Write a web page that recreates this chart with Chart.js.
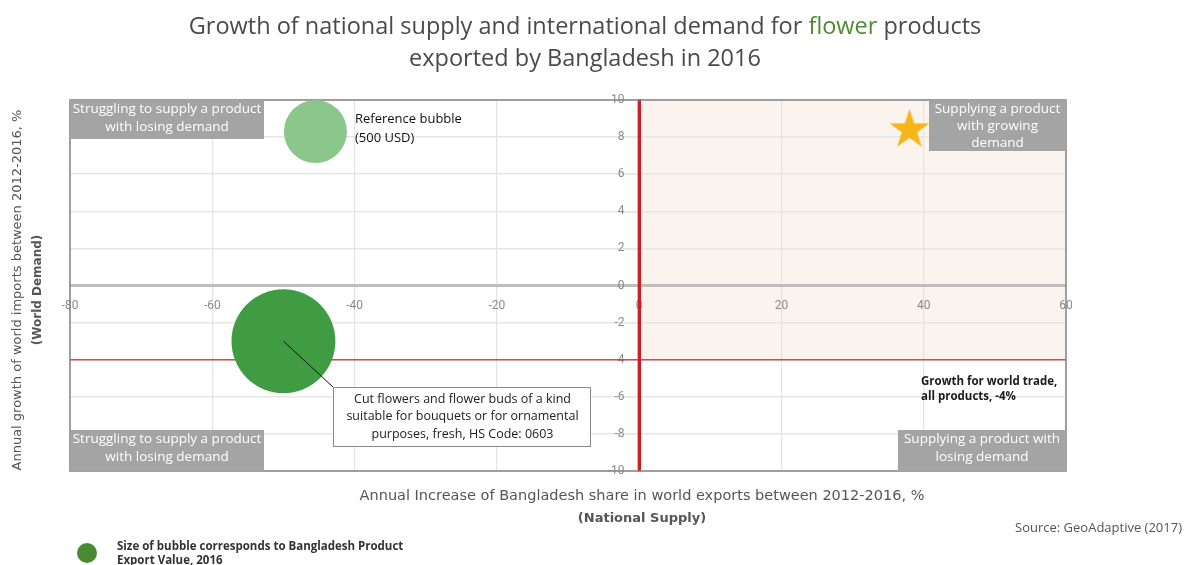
<!DOCTYPE html>
<html>
<head>
<meta charset="utf-8">
<title>Bangladesh flower exports 2016</title>
<script src="https://cdn.jsdelivr.net/npm/chart.js@4.4.1/dist/chart.umd.min.js"></script>
<style>
  html, body { margin: 0; padding: 0; background: #fff; }
  #wrap { position: relative; width: 1184px; height: 565px; }
</style>
</head>
<body>
<div id="wrap"><canvas id="growthChart"></canvas></div>
<script>
// product bubble: supply growth (x), demand growth (y), export value
var productNames = ['Cut flowers and flower buds of a kind suitable for bouquets or for ornamental purposes, fresh, HS Code: 0603'];
var supplyGrowth = [-50];
var demandGrowth = [-3];
var exportValue = [1360];

// reference bubble (500 USD)
var refSupply = [-45.5];
var refDemand = [8.3];
var refValue = [500];

// star marker in the growing-demand quadrant
var starSupply = [38];
var starDemand = [8.5];

// world trade growth, all products
var worldTradeGrowth = -4;

// axis ranges
var xRange = [-80, 60];
var yRange = [-10, 10];
var xStep = 20;
var yStep = 2;

// bubble area follows value, 500 USD reference = 31.5px radius
function bubbleRadius(v) {
    return 31.5 * Math.sqrt(v / refValue[0]);
}

// filled five point star used as point style
var starImg = document.createElement('canvas');
starImg.width = 42;
starImg.height = 42;
var sc = starImg.getContext('2d');
sc.fillStyle = '#f6b519';
sc.beginPath();
for (var i = 0; i < 10; i++) {
    var rr = i % 2 ? 8.1 : 21;
    var a = -Math.PI / 2 + i * Math.PI / 5;
    sc.lineTo(21 + rr * Math.cos(a), 23 + rr * Math.sin(a));
}
sc.closePath();
sc.fill();

function textLines(ctx, lines, x, y, lh) {
    for (var i = 0; i < lines.length; i++) {
        ctx.fillText(lines[i], x, y + i * lh);
    }
}

function greyBox(ctx, x, y, w, h, lines, lh) {
    ctx.fillStyle = '#a4a4a4';
    ctx.fillRect(x, y, w, h);
    ctx.fillStyle = '#ffffff';
    ctx.font = '13.5px "Open Sans"';
    ctx.textAlign = 'center';
    ctx.textBaseline = 'middle';
    textLines(ctx, lines, x + w / 2, y + 9, lh);
}

var quadrantPlugin = {
    id: 'quadrants',
    beforeDraw: function(chart) {
        var c = chart.ctx, a = chart.chartArea;
        var xs = chart.scales.x, ys = chart.scales.y;
        c.save();
        // shaded growing side
        var x0 = xs.getPixelForValue(0);
        var yw = ys.getPixelForValue(worldTradeGrowth);
        c.fillStyle = '#faf3ee';
        c.fillRect(x0, a.top, a.right - x0, yw - a.top);
        c.restore();
    },
    beforeDatasetsDraw: function(chart) {
        var c = chart.ctx, a = chart.chartArea;
        var ys = chart.scales.y, xs = chart.scales.x;
        c.save();
        // world trade growth line
        var yw = ys.getPixelForValue(worldTradeGrowth);
        c.strokeStyle = '#d24a4a';
        c.lineWidth = 1.5;
        c.beginPath();
        c.moveTo(a.left, yw);
        c.lineTo(a.right, yw);
        c.stroke();
        // red zero supply line on top
        var x0 = xs.getPixelForValue(0);
        c.strokeStyle = '#cc1f24';
        c.lineWidth = 3;
        c.beginPath();
        c.moveTo(x0, a.top);
        c.lineTo(x0, a.bottom);
        c.stroke();
        // frame
        c.strokeStyle = '#858585';
        c.lineWidth = 1.5;
        c.strokeRect(a.left, a.top, a.right - a.left, a.bottom - a.top);
        c.restore();
    },
    afterDatasetsDraw: function(chart) {
        var c = chart.ctx, a = chart.chartArea;
        var xs = chart.scales.x, ys = chart.scales.y;
        c.save();

        // quadrant labels
        greyBox(c, a.left, a.top, 194, 39, ['Struggling to supply a product', 'with losing demand'], 18);
        greyBox(c, a.left, a.bottom - 41, 194, 41, ['Struggling to supply a product', 'with losing demand'], 18);
        greyBox(c, a.right - 137, a.top, 137, 51, ['Supplying a product', 'with growing', 'demand'], 17);
        greyBox(c, a.right - 168, a.bottom - 41, 168, 41, ['Supplying a product with', 'losing demand'], 18);

        // reference bubble note
        c.fillStyle = '#111';
        c.font = '13px "Open Sans"';
        c.textAlign = 'left';
        c.textBaseline = 'middle';
        textLines(c, ['Reference bubble', '(500 USD)'], 355, 119, 19);

        // world trade note
        c.font = 'bold 11.5px "Open Sans"';
        c.fillStyle = '#1a1a1a';
        textLines(c, ['Growth for world trade,', 'all products, -4%'], 921, 382, 15);

        // callout for the product bubble
        var px = xs.getPixelForValue(supplyGrowth[0]);
        var py = ys.getPixelForValue(demandGrowth[0]);
        var bx = 333, by = 387, bw = 257, bh = 59;
        c.strokeStyle = '#111';
        c.lineWidth = 1;
        c.beginPath();
        c.moveTo(px, py);
        c.lineTo(bx, by);
        c.stroke();
        c.fillStyle = '#fff';
        c.fillRect(bx, by, bw, bh);
        c.strokeStyle = '#8a8a8a';
        c.strokeRect(bx + 0.5, by + 0.5, bw, bh);
        c.fillStyle = '#222';
        c.font = '12.5px "Open Sans"';
        c.textAlign = 'center';
        textLines(c, ['Cut flowers and flower buds of a kind', 'suitable for bouquets or for ornamental', 'purposes, fresh, HS Code: 0603'], bx + bw / 2 + 1, by + 12, 17.5);
        c.restore();
    },
    afterDraw: function(chart) {
        var c = chart.ctx;
        c.save();
        // title, two lines, with the product word in green
        c.font = '23.5px "Open Sans"';
        c.textBaseline = 'middle';
        c.textAlign = 'left';
        var p1 = 'Growth of national supply and international demand for ';
        var p2 = 'flower';
        var p3 = ' products';
        var w1 = c.measureText(p1).width, w2 = c.measureText(p2).width, w3 = c.measureText(p3).width;
        var sx = 585 - (w1 + w2 + w3) / 2;
        c.fillStyle = '#4a4a4a';
        c.fillText(p1, sx, 27);
        c.fillStyle = '#4f8a34';
        c.fillText(p2, sx + w1, 27);
        c.fillStyle = '#4a4a4a';
        c.fillText(p3, sx + w1 + w2, 27);
        c.textAlign = 'center';
        c.fillText('exported by Bangladesh in 2016', 585, 59);

        // x axis title
        c.fillStyle = '#555';
        c.font = '14.5px "DejaVu Sans"';
        c.fillText('Annual Increase of Bangladesh share in world exports between 2012-2016, %', 642, 496);
        c.font = 'bold 13px "DejaVu Sans"';
        c.fillText('(National Supply)', 642, 519);

        // y axis title
        c.save();
        c.translate(18, 290);
        c.rotate(-Math.PI / 2);
        c.font = '13px "DejaVu Sans"';
        c.fillText('Annual growth of world imports between 2012-2016, %', 0, 0);
        c.font = 'bold 12px "DejaVu Sans"';
        c.fillText('(World Demand)', 0, 20);
        c.restore();

        // source
        c.font = '13px "Open Sans"';
        c.fillStyle = '#555';
        c.textAlign = 'right';
        c.fillText('Source: GeoAdaptive (2017)', 1182, 528);

        // bubble size key
        c.fillStyle = '#4a8a32';
        c.beginPath();
        c.arc(87, 553, 10, 0, Math.PI * 2);
        c.fill();
        c.fillStyle = '#333';
        c.font = 'bold 11.5px "Open Sans"';
        c.textAlign = 'left';
        textLines(c, ['Size of bubble corresponds to Bangladesh Product', 'Export Value, 2016'], 117, 547, 14);
        c.restore();
    }
};

var ctx = document.getElementById('growthChart');

var myChart = new Chart(ctx, {
    type: 'bubble',
    data: {
        datasets: [
            {
                label: productNames[0],
                data: supplyGrowth.map(function(x, i) {
                    return { x: x, y: demandGrowth[i], r: bubbleRadius(exportValue[i]) };
                }),
                backgroundColor: '#409c42',
                borderWidth: 0
            },
            {
                label: 'Reference bubble (500 USD)',
                data: refSupply.map(function(x, i) {
                    return { x: x, y: refDemand[i], r: bubbleRadius(refValue[i]) };
                }),
                backgroundColor: '#8bc68a',
                borderWidth: 0
            },
            {
                type: 'scatter',
                label: 'Star',
                data: starSupply.map(function(x, i) {
                    return { x: x, y: starDemand[i] };
                }),
                pointStyle: starImg
            }
        ]
    },
    options: {
        responsive: true,
        maintainAspectRatio: false,
        animation: false,
        events: [],
        layout: { padding: { left: 70, top: 100, right: 118, bottom: 94 } },
        plugins: {
            legend: { display: false },
            tooltip: { enabled: false },
            title: { display: false }
        },
        scales: {
            x: {
                type: 'linear',
                min: xRange[0],
                max: xRange[1],
                position: { y: 0 },
                ticks: {
                    stepSize: xStep,
                    color: '#8a8a8a',
                    font: { family: 'Roboto', size: 12 },
                    maxRotation: 0,
                    padding: 5
                },
                grid: {
                    color: function(c) { return c.tick && c.tick.value === 0 ? 'rgba(0,0,0,0)' : '#e4e4e4'; },
                    lineWidth: 1.2,
                    tickLength: 8
                },
                border: { color: '#bdbdbd', width: 3 }
            },
            y: {
                type: 'linear',
                min: yRange[0],
                max: yRange[1],
                position: { x: 0 },
                ticks: {
                    stepSize: yStep,
                    color: '#8a8a8a',
                    font: { family: 'Roboto', size: 12 },
                    // labels sit right-aligned on the axis, push them off the red line
                    callback: function(v) { return v + '\u2003\u2009'; }
                },
                grid: {
                    color: function(c) { return c.tick && c.tick.value === 0 ? 'rgba(0,0,0,0)' : '#e6e6e6'; },
                    lineWidth: 1.5,
                    tickLength: 22
                },
                border: { color: '#cc1f24', width: 3 }
            }
        }
    },
    plugins: [quadrantPlugin]
});
</script>
</body>
</html>
